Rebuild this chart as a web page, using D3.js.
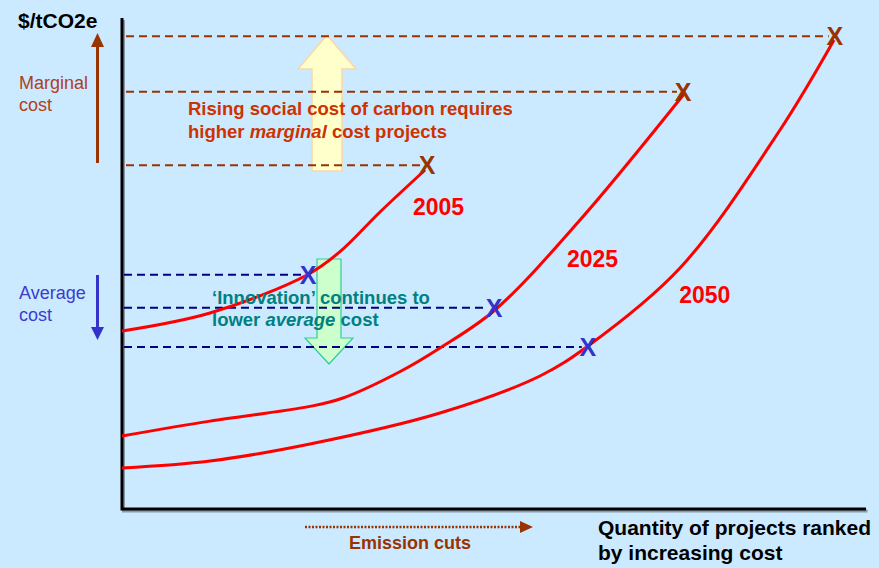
<!DOCTYPE html>
<html>
<head>
<meta charset="utf-8">
<script src="https://cdn.jsdelivr.net/npm/d3@7"></script>
<style>
  body { margin: 0; background: #cceaff; }
  svg { display: block; }
</style>
</head>
<body>
<script>
// Abstract units: x = project quantity (0-100), y = cost (0-100)
const curve2005 = [[0,36.25],[11.83,39.92],[24.87,47.66],[29.3,52.4],[34.68,60.49],[40.73,69.04]];
const curve2025 = [[0,14.87],[11.83,17.9],[25.27,20.9],[29.7,22.6],[37.4,28.0],[42.74,32.79],[50.13,40.53],[61.56,58.86],[75.54,84.52]];
const curve2050 = [[0,8.35],[11.83,9.78],[25.27,13.24],[42.74,19.55],[56.18,27.09],[62.63,33.2],[75.0,49.08],[88.44,77.19],[95.7,95.52]];
const curveNames = ["2005", "2025", "2050"];
const curveLabels = [[39.1,59.9],[59.8,49.3],[74.9,42.0]];
// marginal cost points (end of each curve) and average cost points
const marginalPts = [[41.0,70.0],[75.4,85.0],[95.8,96.3]];
const averagePts = [[25.0,47.7],[50.0,41.0],[62.6,33.0]];

const width = 879, height = 568;
const x = d3.scaleLinear().domain([0, 100]).range([122, 866]);
const y = d3.scaleLinear().domain([0, 100]).range([509, 18]);

const svg = d3.select("body").append("svg")
  .attr("width", width)
  .attr("height", height)
  .style("font-family", "'Liberation Sans', Arial, sans-serif");

svg.append("rect").attr("width", width).attr("height", height).attr("fill", "#cceaff");

// Big arrows (drawn first, behind lines and text)
function blockArrow(cx, top, bottom, shaftW, headW, headL, up) {
  const sL = cx - shaftW / 2, sR = cx + shaftW / 2;
  const hL = cx - headW / 2, hR = cx + headW / 2;
  if (up) {
    return `M${cx},${top} L${hR},${top + headL} L${sR},${top + headL} L${sR},${bottom} L${sL},${bottom} L${sL},${top + headL} L${hL},${top + headL} Z`;
  }
  return `M${cx},${bottom} L${hR},${bottom - headL} L${sR},${bottom - headL} L${sR},${top} L${sL},${top} L${sL},${bottom - headL} L${hL},${bottom - headL} Z`;
}
svg.append("path")
  .attr("d", blockArrow(327, 35, 171, 30, 58, 34, true))
  .attr("fill", "#ffffcc").attr("stroke", "#f8d8a8").attr("stroke-width", 1.5);
svg.append("path")
  .attr("d", blockArrow(329, 259, 364, 24, 48, 26, false))
  .attr("fill", "#ccffcc").attr("stroke", "#33cc99").attr("stroke-width", 1.2);

// Axes with soft shadow
const axisG = svg.append("g");
axisG.append("path")
  .attr("d", `M${x(0) + 1.5},${y(100) + 2} V${y(0) + 2} H${x(100) + 1.5}`)
  .attr("fill", "none").attr("stroke", "#8a9aa8").attr("stroke-width", 3);
axisG.append("path")
  .attr("d", `M${x(0)},${y(100)} V${y(0)} H${x(100)}`)
  .attr("fill", "none").attr("stroke", "#000").attr("stroke-width", 3);

// Dashed guide lines
svg.selectAll(".mline").data(marginalPts).join("line")
  .attr("x1", x(0) + 4).attr("x2", d => x(d[0]) - 6)
  .attr("y1", d => y(d[1])).attr("y2", d => y(d[1]))
  .attr("stroke", "#993300").attr("stroke-width", 2).attr("stroke-dasharray", "8,5");
svg.selectAll(".aline").data(averagePts).join("line")
  .attr("x1", x(0) + 2).attr("x2", d => x(d[0]) - 6)
  .attr("y1", d => y(d[1])).attr("y2", d => y(d[1]))
  .attr("stroke", "#000080").attr("stroke-width", 2).attr("stroke-dasharray", "8,5");

// Cost curves
const line = d3.line().x(d => x(d[0])).y(d => y(d[1])).curve(d3.curveCatmullRom.alpha(0.5));
svg.selectAll(".curve").data([curve2005, curve2025, curve2050]).join("path")
  .attr("d", line)
  .attr("fill", "none").attr("stroke", "#ff0000").attr("stroke-width", 3);

svg.selectAll(".clabel").data(curveLabels).join("text")
  .attr("x", d => x(d[0])).attr("y", d => y(d[1]))
  .text((d, i) => curveNames[i])
  .attr("fill", "#ff0000").attr("font-weight", "bold").attr("font-size", 23);

// X markers
svg.selectAll(".mx").data(marginalPts).join("text")
  .attr("x", d => x(d[0])).attr("y", d => y(d[1]) + 9)
  .attr("text-anchor", "middle")
  .attr("fill", "#993300").attr("font-weight", "bold").attr("font-size", 25)
  .text("X");
svg.selectAll(".ax").data(averagePts).join("text")
  .attr("x", d => x(d[0])).attr("y", d => y(d[1]) + 9)
  .attr("text-anchor", "middle")
  .attr("fill", "#3333cc").attr("font-weight", "bold").attr("font-size", 25)
  .text("X");

// Annotation texts
const rising = svg.append("text").attr("fill", "#cc3300").attr("font-weight", "bold").attr("font-size", 18.5);
rising.append("tspan").attr("x", 188).attr("y", 115).text("Rising social cost of carbon requires");
const r2 = rising.append("tspan").attr("x", 188).attr("y", 138);
r2.append("tspan").text("higher ");
r2.append("tspan").attr("font-style", "italic").text("marginal");
r2.append("tspan").text(" cost projects");

const innov = svg.append("text").attr("fill", "#008080").attr("font-weight", "bold").attr("font-size", 18.5);
innov.append("tspan").attr("x", 212).attr("y", 304).text("\u2018Innovation\u2019 continues to");
const i2 = innov.append("tspan").attr("x", 212).attr("y", 326);
i2.append("tspan").text("lower ");
i2.append("tspan").attr("font-style", "italic").text("average");
i2.append("tspan").text(" cost");

// Left side labels and arrows
svg.append("text").attr("x", 18).attr("y", 28)
  .attr("font-weight", "bold").attr("font-size", 21).attr("fill", "#000").text("$/tCO2e");

const mc = svg.append("text").attr("fill", "#b0401a").attr("font-size", 18);
mc.append("tspan").attr("x", 19).attr("y", 89).text("Marginal");
mc.append("tspan").attr("x", 19).attr("y", 111).text("cost");
svg.append("line").attr("x1", 97.5).attr("x2", 97.5).attr("y1", 163).attr("y2", 45)
  .attr("stroke", "#993300").attr("stroke-width", 3);
svg.append("path").attr("d", "M97.5,33 L104,47 L91,47 Z").attr("fill", "#993300");

const ac = svg.append("text").attr("fill", "#3b3bcf").attr("font-size", 18);
ac.append("tspan").attr("x", 19).attr("y", 299).text("Average");
ac.append("tspan").attr("x", 19).attr("y", 321).text("cost");
svg.append("line").attr("x1", 97.5).attr("x2", 97.5).attr("y1", 275).attr("y2", 329)
  .attr("stroke", "#3333cc").attr("stroke-width", 3);
svg.append("path").attr("d", "M97.5,340 L104,327 L91,327 Z").attr("fill", "#3333cc");

// Bottom labels
svg.append("line").attr("x1", 305).attr("x2", 521).attr("y1", 527).attr("y2", 527)
  .attr("stroke", "#993300").attr("stroke-width", 2.5).attr("stroke-dasharray", "2,1.5");
svg.append("path").attr("d", "M533,527 L520,521 L520,533 Z").attr("fill", "#993300");
svg.append("text").attr("x", 349).attr("y", 549)
  .attr("fill", "#993300").attr("font-weight", "bold").attr("font-size", 18).text("Emission cuts");

const q = svg.append("text").attr("font-weight", "bold").attr("font-size", 21).attr("fill", "#000");
q.append("tspan").attr("x", 598).attr("y", 535).text("Quantity of projects ranked");
q.append("tspan").attr("x", 598).attr("y", 560).text("by increasing cost");
</script>
</body>
</html>
